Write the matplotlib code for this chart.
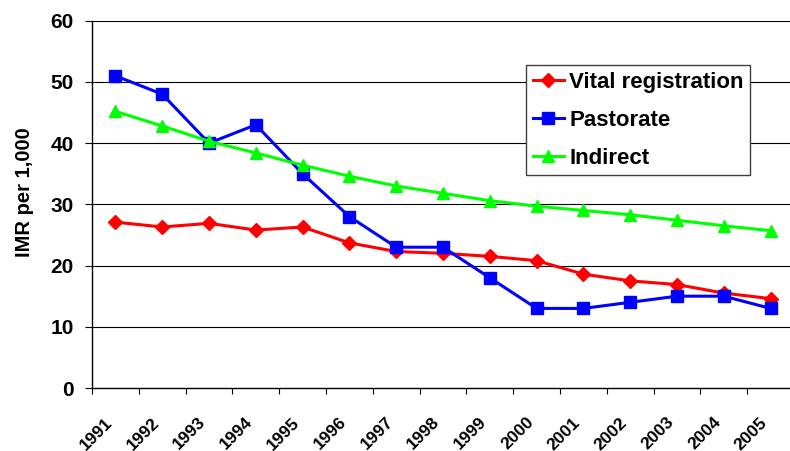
import matplotlib.pyplot as plt
import matplotlib.transforms as mtransforms
import numpy as np

plt.rcParams['font.family'] = ['Liberation Sans', 'DejaVu Sans']
plt.rcParams['font.weight'] = 'bold'

years = ['1991', '1992', '1993', '1994', '1995', '1996', '1997', '1998',
         '1999', '2000', '2001', '2002', '2003', '2004', '2005']
vital = [27.1, 26.3, 26.9, 25.8, 26.3, 23.7, 22.3, 22.0,
         21.5, 20.8, 18.6, 17.5, 16.9, 15.5, 14.6]
pastorate = [51, 48, 40, 43, 35, 28, 23, 23, 18, 13, 13, 14, 15, 15, 13]
indirect = [45.2, 42.8, 40.3, 38.4, 36.4, 34.6, 33.0, 31.8,
            30.6, 29.7, 29.0, 28.3, 27.4, 26.5, 25.7]

fig = plt.figure(figsize=(7.9, 4.51), dpi=100)
ax = fig.add_axes([92/790, 1 - 388/451, 702/790, 367.3/451])

x = np.arange(len(years)) + 0.5

# gridlines
for v in range(10, 61, 10):
    ax.axhline(v, color='black', lw=0.8, zorder=1)

ax.plot(x, vital, color='#FF0000', lw=2.2, marker='D', ms=6.8,
        mec='#FF0000', label='Vital registration', zorder=3, clip_on=False)
ax.plot(x, pastorate, color='#0000FF', lw=2.2, marker='s', ms=8.5,
        mec='#0000FF', label='Pastorate', zorder=3, clip_on=False)
ax.plot(x, indirect, color='#00FF00', lw=2.2, marker='^', ms=9,
        mec='#00FF00', label='Indirect', zorder=3, clip_on=False)

ax.set_xlim(0, len(years))
ax.set_ylim(0, 60)

ax.spines['top'].set_visible(False)
ax.spines['right'].set_visible(False)
ax.spines['left'].set_linewidth(1)
ax.spines['bottom'].set_linewidth(1)

ax.set_yticks(range(0, 61, 10))
ax.tick_params(axis='y', direction='out', length=5, width=0.8,
               labelsize=15, pad=8)

ax.set_xticks(range(0, len(years) + 1))
ax.set_xticklabels([])
ax.tick_params(axis='x', which='major', direction='out', length=4.5, width=0.8)
ax.set_xticks(x, minor=True)
ax.set_xticklabels(years, minor=True, rotation=45, ha='right', va='center',
                   rotation_mode='anchor', fontsize=12.5, fontweight='bold')
ax.tick_params(axis='x', which='minor', length=0, pad=23)
# shift the year labels a little to the left, like the original
shift = mtransforms.ScaledTranslation(-4/72, 0, fig.dpi_scale_trans)
for lbl in ax.get_xticklabels(minor=True):
    lbl.set_transform(lbl.get_transform() + shift)

fig.text(24/790, 1 - 192/451, 'IMR per 1,000', rotation=90, fontsize=14.5,
         fontweight='bold', ha='center', va='center')

leg = ax.legend(loc='upper left', bbox_to_anchor=(0.618, 0.879),
                borderaxespad=0, fontsize=16, handlelength=1.4,
                handletextpad=0.25, borderpad=0.3, labelspacing=0.76,
                fancybox=False, framealpha=1, edgecolor='#404040')
leg.get_frame().set_linewidth(1)
for t in leg.get_texts():
    t.set_fontweight('bold')

fig.savefig('out.png', dpi=100)
